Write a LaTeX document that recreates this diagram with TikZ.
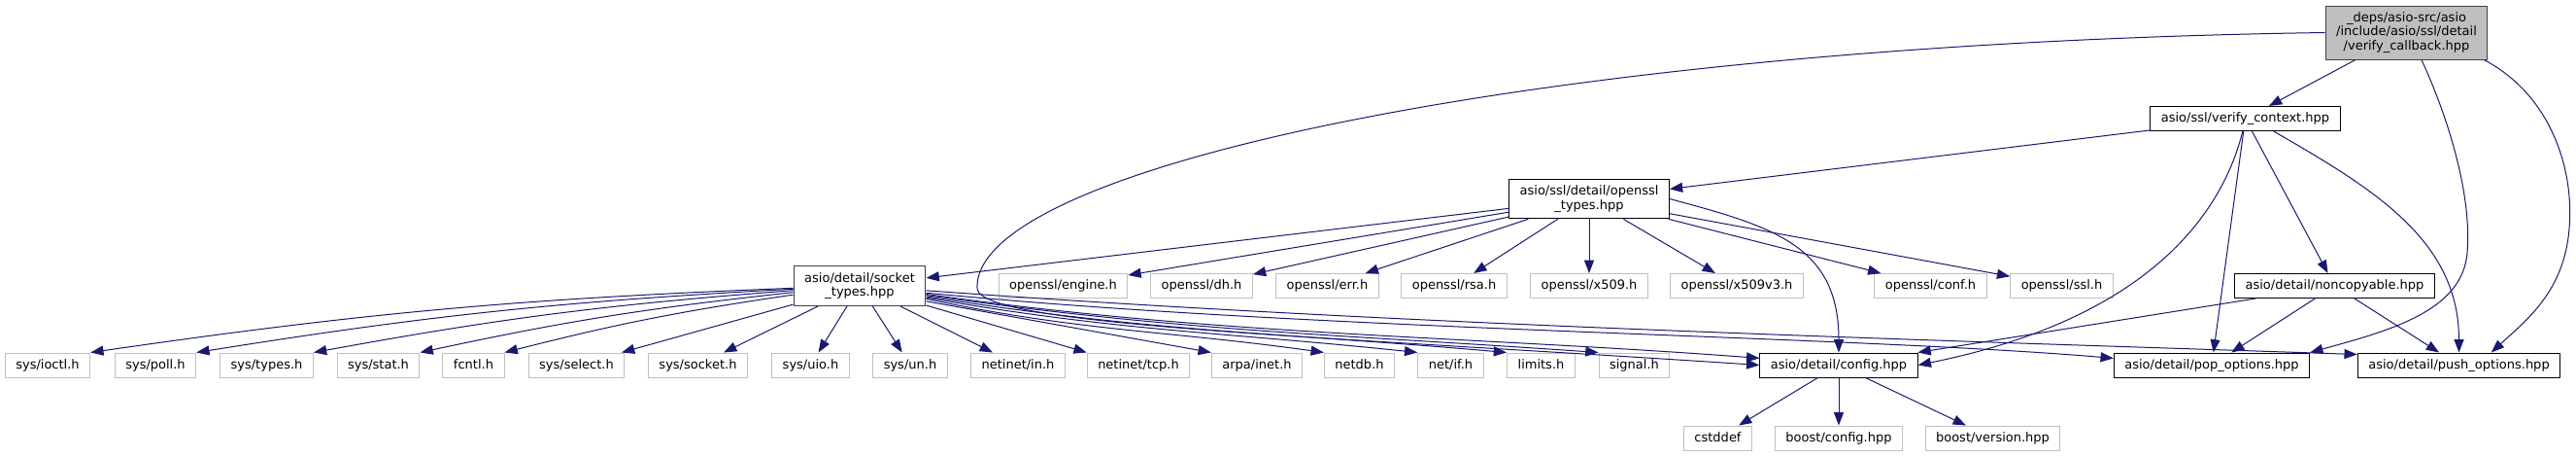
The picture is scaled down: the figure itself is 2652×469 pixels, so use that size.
\documentclass[tikz,border=0pt]{standalone}
\usepackage{fontspec}
\setmainfont{DejaVu Sans}
\usetikzlibrary{arrows.meta}
\definecolor{edgeblue}{HTML}{191970}
\definecolor{boxgray}{HTML}{BFBFBF}
\definecolor{rootline}{HTML}{404040}

\begin{document}
\begin{tikzpicture}[
  x=0.75pt, y=-0.75pt,
  every node/.style={font=\fontsize{9.75}{11}\selectfont},
  base/.style={draw=black, line width=0.75pt, fill=white,
               inner xsep=8.25pt, inner ysep=2pt},
  hdr/.style ={base, minimum height=18.75pt,
               text height=7.4pt, text depth=2.1pt},
  sysh/.style={hdr, draw=boxgray},
  two/.style ={base, align=center, minimum height=30.5pt},
  top/.style ={base, align=center, fill=boxgray, draw=rootline,
               minimum height=41.25pt},
  arr/.style ={-{Triangle[length=10pt,width=7.5pt]}, draw=edgeblue,
               line width=0.75pt}
]
\path[use as bounding box, fill=white] (0,0) rectangle (2652,469);

%% ─── upper files ──────────────────────────────────────────────────────────
\node[top] (vcb)  at (2477.5,33.5)
  {\_deps/asio-src/asio\\/include/asio/ssl/detail\\/verify\_callback.hpp};
\node[hdr] (vctx) at (2311.5,122)   {asio/ssl/verify\_context.hpp};
\node[two] (ossl) at (1636,204.5)   {asio/ssl/detail/openssl\\\_types.hpp};
\node[two, draw=rootline, line width=1pt]
           (sock) at (885,294)      {asio/detail/socket\\\_types.hpp};
\node[hdr] (nocp) at (2403.5,294)   {asio/detail/noncopyable.hpp};

%% ─── openssl headers ──────────────────────────────────────────────────────
\foreach \n/\x in {engine/1094.5, dh/1237, err/1366.5, rsa/1497,
                   x509/1636, x509v3/1788, conf/1987.5, ssl/2122.5}
  \node[sysh] (o_\n) at (\x,294) {openssl/\n.h};

%% ─── system headers ───────────────────────────────────────────────────────
\foreach \n/\x in {ioctl/49, poll/160, types/274.5, stat/389.5,
                   select/593.5, socket/718.5, uio/834.5, un/937}
  \node[sysh] (s_\n) at (\x,375.5) {sys/\n.h};
\node[sysh] (fcntl) at (487.5,375.5)  {fcntl.h};
\node[sysh] (n_in)  at (1048,375.5)   {netinet/in.h};
\node[sysh] (n_tcp) at (1172,375.5)   {netinet/tcp.h};
\node[sysh] (a_inet) at (1294,375.5)  {arpa/inet.h};
\node[sysh] (n_db)  at (1399.5,375.5) {netdb.h};
\node[sysh] (n_if)  at (1493.5,375.5) {net/if.h};
\node[sysh] (c_lim) at (1586.5,375.5) {limits.h};
\node[sysh] (c_sig) at (1682.5,375.5) {signal.h};

%% ─── asio detail + boost ──────────────────────────────────────────────────
\node[hdr] (cfg)  at (1893,375.5)   {asio/detail/config.hpp};
\node[hdr] (pop)  at (2277,375.5)   {asio/detail/pop\_options.hpp};
\node[hdr] (push) at (2531.5,375.5) {asio/detail/push\_options.hpp};
\node[sysh] (cstd) at (1768.5,450.5) {cstddef};
\node[sysh] (bcfg) at (1893,450.5)   {boost/config.hpp};
\node[sysh] (bver) at (2051.5,450.5) {boost/version.hpp};

%% ─── straight includes ────────────────────────────────────────────────────
\foreach \a/\b in {vcb/vctx, vctx/ossl, vctx/nocp, vctx/pop,
                   nocp/cfg, nocp/pop, nocp/push, ossl/sock,
                   cfg/cstd, cfg/bcfg, cfg/bver,
                   sock/s_select, sock/s_socket, sock/s_uio, sock/s_un,
                   sock/n_in}
  \draw[arr] (\a)--(\b);
\foreach \n in {engine, dh, err, rsa, x509, x509v3, conf, ssl}
  \draw[arr] (ossl)--(o_\n);

%% ─── socket_types fan ─────────────────────────────────────────────────────
\foreach \b in {s_ioctl, s_poll, s_types, s_stat, fcntl}
  \draw[arr] (sock) to[bend right=3] (\b.north east);
\draw[arr] (sock)--(n_tcp.north west);
\draw[arr] (sock.-13)--(a_inet.north west);
\draw[arr] (sock.-11) to[out=-12,in=172] (n_db.north west);
\draw[arr] (sock.-10) to[out=-10,in=174] (n_if.north west);
\draw[arr] (sock.-9)  to[out=-9,in=175]  (c_lim.north west);
\draw[arr] (sock.-8)  to[out=-8,in=176]  (c_sig.north west);
\draw[arr] (sock.-7)  .. controls (1250,345) and (1500,345) .. (cfg.175);
\draw[arr] (sock.-6)  .. controls (1350,340) and (1900,345) .. (pop.176);
\draw[arr] (sock.-4)  .. controls (1450,335) and (2000,350) .. (push.174);

%% ─── curved includes ──────────────────────────────────────────────────────
\draw[arr] (ossl.east) to[out=-15,in=90,looseness=1.2] (cfg.north);
\draw[arr] ([xshift=-2pt]vctx.south)
  .. controls (2285,230) and (2200,330) .. (cfg.east);
\draw[arr] (vctx.-24.5) to[out=-30,in=90] (push.north);
\draw[arr] (vcb.west) .. controls (1600,45) and (1000,170) .. (1006,297)
  .. controls (1012,335) and (1350,345) .. (cfg.west);
\draw[arr] ([xshift=11.6pt]vcb.south)
  .. controls (2520,120) and (2545,200) .. (2540,260)
  .. controls (2535,320) and (2460,340) .. (pop.north east);
\draw[arr] ([xshift=-3pt]vcb.south east)
  .. controls (2630,100) and (2650,180) .. (2645,235)
  .. controls (2640,300) and (2600,330) .. ([xshift=25pt]push.north);

\end{tikzpicture}
\end{document}
